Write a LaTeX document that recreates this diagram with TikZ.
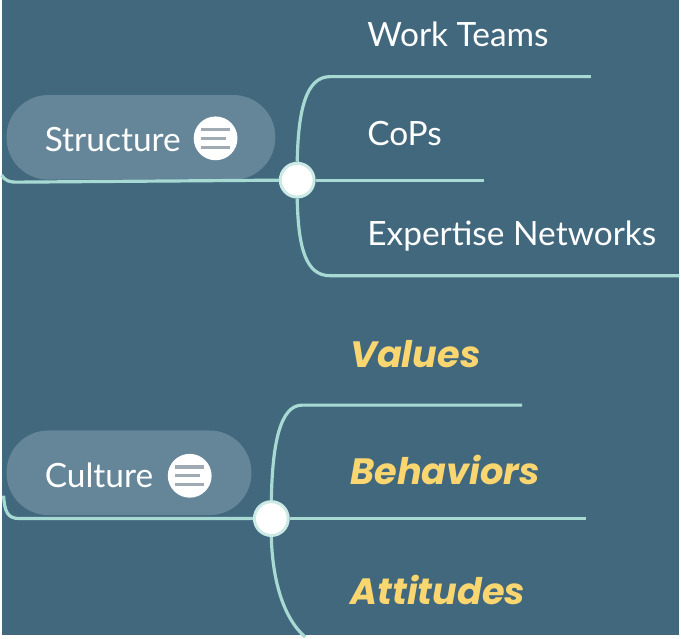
\documentclass[tikz,border=0pt]{standalone}
\usepackage{fontspec}
\setmainfont{Lato}
\newfontfamily\leaffont{Poppins}
\definecolor{bgblue}{RGB}{66,104,126}
\definecolor{pillblue}{RGB}{101,134,153}
\definecolor{branchcyan}{RGB}{168,218,212}
\definecolor{leafyellow}{RGB}{250,214,112}
\definecolor{icongrey}{RGB}{160,170,178}

\begin{document}
\begin{tikzpicture}[x=0.5pt, y=-0.5pt,
    pill/.style={fill=pillblue, rounded corners=21pt, minimum width=135pt, minimum height=42.5pt, inner sep=0pt},
    topictext/.style={text=white, anchor=base west, inner sep=0pt, font=\fontsize{16.8}{20}\selectfont},
    leaftext/.style={text=white, anchor=base west, inner sep=0pt, font=\fontsize{16.8}{20}\selectfont},
    boldleaf/.style={text=leafyellow, anchor=base west, inner sep=0pt, font=\fontsize{18.4}{22}\leaffont\bfseries\itshape},
    menuicon/.style={circle, fill=white, minimum size=22pt, inner sep=0pt},
    iconline/.style={icongrey, line width=1.6pt},
    junction/.style={circle, fill=white, draw=branchcyan!60!white, line width=1.5pt, minimum size=17pt, inner sep=0pt},
    branch/.style={branchcyan, line width=1.6pt}]
        \fill [bgblue] (0, 0) rectangle (681, 638);

        % Structure
        \node [pill] (structpill) at (140, 138) {};
        \node [topictext] (struct) at (43, 152) {Structure};
        \node [menuicon] (structicon) at (215, 139) {};
        \coordinate (structin) at (0, 176);
        \node [junction] (structjn) at (297, 181) {};
        \coordinate (teamsend) at (592, 77);
        \coordinate (copsend) at (485, 181);
        \coordinate (expertend) at (681, 277);
        \draw [branch] (structin) .. controls (4, 182) and (8, 183) .. (16, 183) -- (structjn.west);
        \draw [branch] (structjn.north) .. controls (298, 110) and (306, 77) .. (330, 77) -- (teamsend);
        \draw [branch] (structjn.east) -- (copsend);
        \draw [branch] (structjn.south) .. controls (298, 250) and (306, 277) .. (330, 277) -- (expertend);
        \node [leaftext] (teams) at (367, 47) {Work Teams};
        \node [leaftext] (cops) at (367, 146) {CoPs};
        \node [leaftext] (expert) at (367, 247) {Expertise Networks};

        % Culture
        \node [pill] (culturepill) at (128, 475) [minimum width=123pt] {};
        \node [topictext] (culture) at (43, 490) {Culture};
        \node [menuicon] (cultureicon) at (189, 478) {};
        \coordinate (culturein) at (2, 498);
        \node [junction] (culturejn) at (271, 521) {};
        \coordinate (valuesend) at (523, 407);
        \coordinate (behavend) at (587, 521);
        \coordinate (attitend) at (305, 640);
        \draw [branch] (culturein) .. controls (3, 514) and (6, 521) .. (18, 521) -- (culturejn.west);
        \draw [branch] (culturejn.north) .. controls (272, 445) and (280, 407) .. (302, 407) -- (valuesend);
        \draw [branch] (culturejn.east) -- (behavend);
        \draw [branch] (culturejn.south) .. controls (272, 580) and (282, 620) .. (attitend);
        \node [boldleaf] (values) at (350, 369) {Values};
        \node [boldleaf] (behav) at (350, 487) {Behaviors};
        \node [boldleaf] (attit) at (350, 607) {Attitudes};

        \foreach \ic in {structicon, cultureicon} {
            \draw [iconline] ([xshift=-7.2pt, yshift=4.4pt]\ic.center) -- ++(14.4pt, 0);
            \draw [iconline] ([xshift=-7.2pt]\ic.center) -- ++(12.4pt, 0);
            \draw [iconline] ([xshift=-7.2pt, yshift=-4.4pt]\ic.center) -- ++(14.4pt, 0);
        }
\end{tikzpicture}
\end{document}
